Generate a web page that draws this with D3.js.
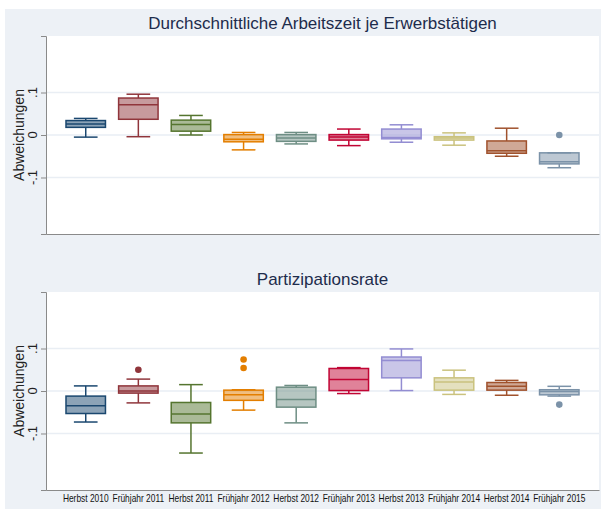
<!DOCTYPE html>
<html lang="de">
<head>
<meta charset="utf-8">
<title>Abweichungen je Welle</title>
<script src="https://cdn.jsdelivr.net/npm/d3@7/dist/d3.min.js"></script>
<style>
  body { margin: 0; background: #fff; }
  .title { font-family: "Liberation Sans", Arial, sans-serif; font-size: 17px; fill: #1d2c4c; }
  .ylab, .ytick { font-family: "Liberation Sans", Arial, sans-serif; fill: #222; }
  .xtick { font-family: "Liberation Sans", Arial, sans-serif; font-size: 10px; fill: #111; }
</style>
</head>
<body>
<svg width="601" height="509"></svg>
<script>
// categories (survey waves)
var waves = ["Herbst 2010", "Frühjahr 2011", "Herbst 2011", "Frühjahr 2012", "Herbst 2012",
             "Frühjahr 2013", "Herbst 2013", "Frühjahr 2014", "Herbst 2014", "Frühjahr 2015"];
var palette = ["#1a476f", "#90353b", "#55752f", "#e37e00", "#6e8e84",
               "#c10534", "#938dd2", "#cac27e", "#a0522d", "#7b92a8"];
var yTicks = [-0.1, 0, 0.1];
var yTickLabels = ["-.1", "0", ".1"];

// Durchschnittliche Arbeitszeit je Erwerbstätigen
var azLo  = [-0.005, -0.004, 0.000, -0.035, -0.021, -0.025, -0.017, -0.024, -0.050, -0.077];
var azQ1  = [ 0.018,  0.037, 0.009, -0.016, -0.015, -0.012, -0.009, -0.012, -0.043, -0.068];
var azMed = [ 0.026,  0.071, 0.025, -0.010, -0.007, -0.005, -0.006, -0.007, -0.037, -0.063];
var azQ3  = [ 0.034,  0.087, 0.035,  0.001,  0.001,  0.001,  0.014, -0.004, -0.014, -0.042];
var azHi  = [ 0.039,  0.096, 0.046,  0.006,  0.006,  0.014,  0.024,  0.005,  0.016, -0.042];
var azOut = [[], [], [], [], [], [], [], [], [], [0.000]];

// Partizipationsrate
var prLo  = [-0.073, -0.028, -0.146, -0.045, -0.075, -0.006, 0.001, -0.008, -0.010, -0.012];
var prQ1  = [-0.053, -0.005, -0.075, -0.022, -0.038,  0.001, 0.031,  0.002,  0.002, -0.009];
var prMed = [-0.035,  0.000, -0.054, -0.009, -0.020,  0.027, 0.072,  0.021,  0.011, -0.001];
var prQ3  = [-0.012,  0.012, -0.027,  0.002,  0.009,  0.053, 0.080,  0.031,  0.020,  0.003];
var prHi  = [ 0.012,  0.028,  0.015,  0.003,  0.013,  0.055, 0.099,  0.049,  0.025,  0.011];
var prOut = [[], [0.050], [], [0.054, 0.074], [], [], [], [], [], [-0.032]];

var svg = d3.select("svg");

// graph region background
svg.append("rect")
    .attr("x", 5).attr("y", 9)
    .attr("width", 596).attr("height", 500)
    .attr("fill", "#edf1f6");

var plotLeft = 46, plotRight = 599, plotH = 198;

var xScale = d3.scaleBand()
    .domain(waves)
    .range([plotLeft, plotRight])
    .paddingInner(0.25)
    .paddingOuter(0.38);

function drawPanel(top, title, lo, q1, med, q3, hi, outs, showX) {
  var yScale = d3.scaleLinear().domain([-0.233, 0.233]).range([top + plotH, top]);
  var g = svg.append("g");

  g.append("rect")
      .attr("x", plotLeft).attr("y", top)
      .attr("width", plotRight - plotLeft).attr("height", plotH)
      .attr("fill", "#fff");

  // gridlines
  g.selectAll(".grid").data(yTicks).enter().append("line")
      .attr("x1", plotLeft).attr("x2", plotRight)
      .attr("y1", function(d) { return yScale(d); })
      .attr("y2", function(d) { return yScale(d); })
      .attr("stroke", "#e9eef4").attr("stroke-width", 1.5);

  // y axis
  var yAxis = g.append("g")
      .attr("transform", "translate(" + plotLeft + ",0)")
      .call(d3.axisLeft(yScale).tickValues(yTicks).tickSize(5).tickFormat(""));
  yAxis.select(".domain").attr("stroke", "#8a8a8a");
  yAxis.selectAll(".tick line").attr("stroke", "#8a8a8a");

  yTicks.forEach(function(t, i) {
    g.append("text")
        .attr("class", "ytick")
        .attr("transform", "translate(37," + yScale(t) + ") rotate(-90)")
        .attr("text-anchor", "middle")
        .style("font-size", "13px")
        .text(yTickLabels[i]);
  });

  g.append("text")
      .attr("class", "ylab")
      .attr("transform", "translate(24," + (top + plotH / 2) + ") rotate(-90)")
      .attr("text-anchor", "middle")
      .style("font-size", "14px")
      .text("Abweichungen");

  // x axis
  var xAxis = g.append("g")
      .attr("transform", "translate(0," + (top + plotH) + ")")
      .call(d3.axisBottom(xScale).tickSize(0).tickFormat(""));
  xAxis.select(".domain").attr("stroke", "#8a8a8a").attr("stroke-width", 1.2);

  if (showX) {
    // narrow labels: squeeze horizontally, no narrow face installed
    g.selectAll(".xtick").data(waves).enter().append("text")
        .attr("class", "xtick")
        .attr("transform", function(d) {
          return "translate(" + (xScale(d) + xScale.bandwidth() / 2) + "," + (top + plotH + 12) + ") scale(0.84,1)";
        })
        .attr("text-anchor", "middle")
        .text(function(d) { return d; });
  }

  g.append("text")
      .attr("class", "title")
      .attr("x", (plotLeft + plotRight) / 2)
      .attr("y", top - 7)
      .attr("text-anchor", "middle")
      .text(title);

  var bw = xScale.bandwidth();
  var cap = bw * 0.6;

  waves.forEach(function(w, i) {
    var cx = xScale(w) + bw / 2;
    var col = palette[i];
    var b = g.append("g");

    // whiskers
    b.append("line")
        .attr("x1", cx).attr("x2", cx)
        .attr("y1", yScale(hi[i])).attr("y2", yScale(q3[i]))
        .attr("stroke", col).attr("stroke-width", 1.5);
    b.append("line")
        .attr("x1", cx).attr("x2", cx)
        .attr("y1", yScale(q1[i])).attr("y2", yScale(lo[i]))
        .attr("stroke", col).attr("stroke-width", 1.5);
    [hi[i], lo[i]].forEach(function(v) {
      b.append("line")
          .attr("x1", cx - cap / 2).attr("x2", cx + cap / 2)
          .attr("y1", yScale(v)).attr("y2", yScale(v))
          .attr("stroke", col).attr("stroke-width", 1.5);
    });

    // box
    b.append("rect")
        .attr("x", cx - bw / 2)
        .attr("y", yScale(q3[i]))
        .attr("width", bw)
        .attr("height", Math.max(1, yScale(q1[i]) - yScale(q3[i])))
        .attr("fill", col).attr("fill-opacity", 0.5)
        .attr("stroke", col).attr("stroke-width", 1.5);

    // median
    b.append("line")
        .attr("x1", cx - bw / 2).attr("x2", cx + bw / 2)
        .attr("y1", yScale(med[i])).attr("y2", yScale(med[i]))
        .attr("stroke", col).attr("stroke-width", 1.5);

    // outside values
    b.selectAll("circle").data(outs[i]).enter().append("circle")
        .attr("cx", cx)
        .attr("cy", function(d) { return yScale(d); })
        .attr("r", 3.3)
        .attr("fill", col);
  });
}

drawPanel(36, "Durchschnittliche Arbeitszeit je Erwerbstätigen", azLo, azQ1, azMed, azQ3, azHi, azOut, false);
drawPanel(292, "Partizipationsrate", prLo, prQ1, prMed, prQ3, prHi, prOut, true);
</script>
</body>
</html>
